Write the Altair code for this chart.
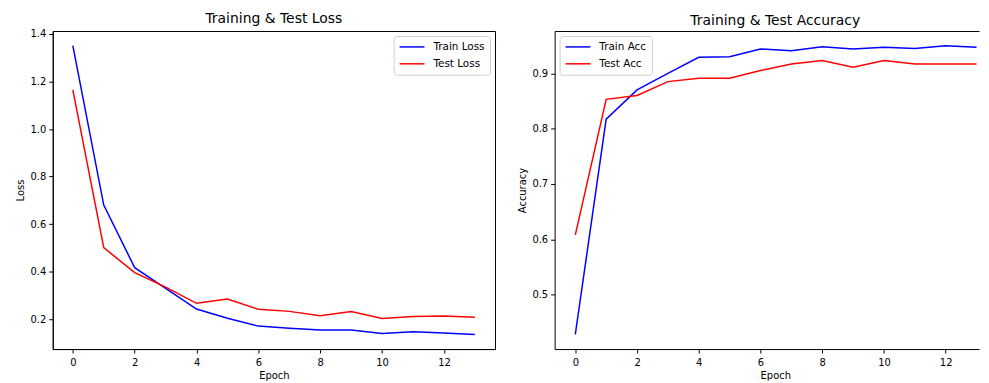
import altair as alt
import pandas as pd

epochs = list(range(14))
train_loss = [1.351, 0.680, 0.417, 0.330, 0.243, 0.204, 0.171, 0.162, 0.155, 0.155, 0.140, 0.147, 0.142, 0.136]
test_loss = [1.165, 0.501, 0.396, 0.335, 0.267, 0.285, 0.242, 0.233, 0.215, 0.232, 0.203, 0.211, 0.214, 0.208]
train_acc = [0.428, 0.817, 0.870, 0.900, 0.929, 0.930, 0.944, 0.941, 0.948, 0.944, 0.947, 0.945, 0.950, 0.947]
test_acc = [0.608, 0.853, 0.860, 0.885, 0.891, 0.891, 0.905, 0.917, 0.923, 0.911, 0.923, 0.917, 0.917, 0.917]

loss_names = ["Train Loss", "Test Loss"]
acc_names = ["Train Acc", "Test Acc"]
loss_ticks = [0.2, 0.4, 0.6, 0.8, 1.0, 1.2, 1.4]
acc_ticks = [0.5, 0.6, 0.7, 0.8, 0.9]
x_ticks = [0, 2, 4, 6, 8, 10, 12]
colors = ["#0000ff", "#ff0000"]

FONT = "DejaVu Sans"

loss_df = pd.DataFrame({
    "Epoch": epochs * 2,
    "value": train_loss + test_loss,
    "series": [loss_names[0]] * 14 + [loss_names[1]] * 14,
})
train_acc_df = pd.DataFrame({"Epoch": epochs, "value": train_acc, "series": acc_names[0]})
test_acc_df = pd.DataFrame({"Epoch": epochs, "value": test_acc, "series": acc_names[1]})

def legend(orient):
    return alt.Legend(
        title=None, orient=orient, offset=5, padding=5,
        fillColor="white", strokeColor="#d0d0d0", cornerRadius=3,
        symbolType="M-1,0H4", symbolSize=100, symbolStrokeWidth=1.5,
        symbolFillColor="transparent",
        labelFontSize=10.5, labelFont=FONT, labelColor="black",
        labelOffset=23, rowPadding=5,
    )

x_axis_common = dict(values=x_ticks, title="Epoch", format="d", labelPadding=5, titlePadding=3)

loss = alt.Chart(loss_df).mark_line(strokeWidth=1.5, clip=True).encode(
    x=alt.X("Epoch:Q", scale=alt.Scale(domain=[-0.65, 13.65], nice=False, zero=False),
            axis=alt.Axis(**x_axis_common)),
    y=alt.Y("value:Q", scale=alt.Scale(domain=[0.0745, 1.4125], nice=False, zero=False),
            axis=alt.Axis(values=loss_ticks, format=".1f", title="Loss")),
    color=alt.Color("series:N", sort=loss_names,
                    scale=alt.Scale(domain=loss_names, range=colors),
                    legend=legend("top-right")),
).properties(width=445, height=320,
             title=alt.TitleParams("Training & Test Loss", fontSize=14, font=FONT,
                                   fontWeight="normal", offset=3, color="black"))

# the right panel is cut off by the figure edge in the reference
acc_x = alt.Scale(domain=[-0.67, 13.08], nice=False, zero=False)
acc_y = alt.Scale(domain=[0.4015, 0.9765], nice=False, zero=False)
acc_color = alt.Scale(domain=acc_names, range=colors)

acc_train = alt.Chart(train_acc_df).mark_line(strokeWidth=1.5, clip=False).encode(
    x=alt.X("Epoch:Q", scale=acc_x, axis=alt.Axis(titleX=222, **x_axis_common)),
    y=alt.Y("value:Q", scale=acc_y,
            axis=alt.Axis(values=acc_ticks, format=".1f", title="Accuracy")),
    color=alt.Color("series:N", sort=acc_names, scale=acc_color, legend=legend("top-left")),
)
acc_test = alt.Chart(test_acc_df).mark_line(strokeWidth=1.5, clip=False).encode(
    x=alt.X("Epoch:Q", scale=acc_x,
            axis=alt.Axis(orient="top", labels=False, ticks=False, title=None, domain=True)),
    y=alt.Y("value:Q", scale=acc_y),
    color=alt.Color("series:N", sort=acc_names, scale=acc_color, legend=legend("top-left")),
)
acc = alt.layer(acc_train, acc_test).resolve_axis(x="independent").properties(
    width=427, height=320,
    view=alt.ViewBackground(stroke="transparent"),
    title=alt.TitleParams("Training & Test Accuracy", fontSize=14, font=FONT,
                          fontWeight="normal", offset=3, color="black", dx=8.5))

chart = alt.hconcat(loss, acc, spacing=21).resolve_scale(color="independent").resolve_legend(
    color="independent"
).properties(
    padding={"left": 7, "top": 2, "right": 0, "bottom": 0}
).configure_view(stroke="black", strokeWidth=1).configure_axis(
    grid=False, labelFont=FONT, titleFont=FONT, labelFontSize=10, titleFontSize=10,
    labelColor="black", titleColor="black", titleFontWeight="normal",
    tickColor="black", domainColor="black", tickSize=4, labelPadding=3,
    domainWidth=1, tickWidth=1,
)

chart.save("out.html", embed_options={"renderer": "svg", "actions": False})
